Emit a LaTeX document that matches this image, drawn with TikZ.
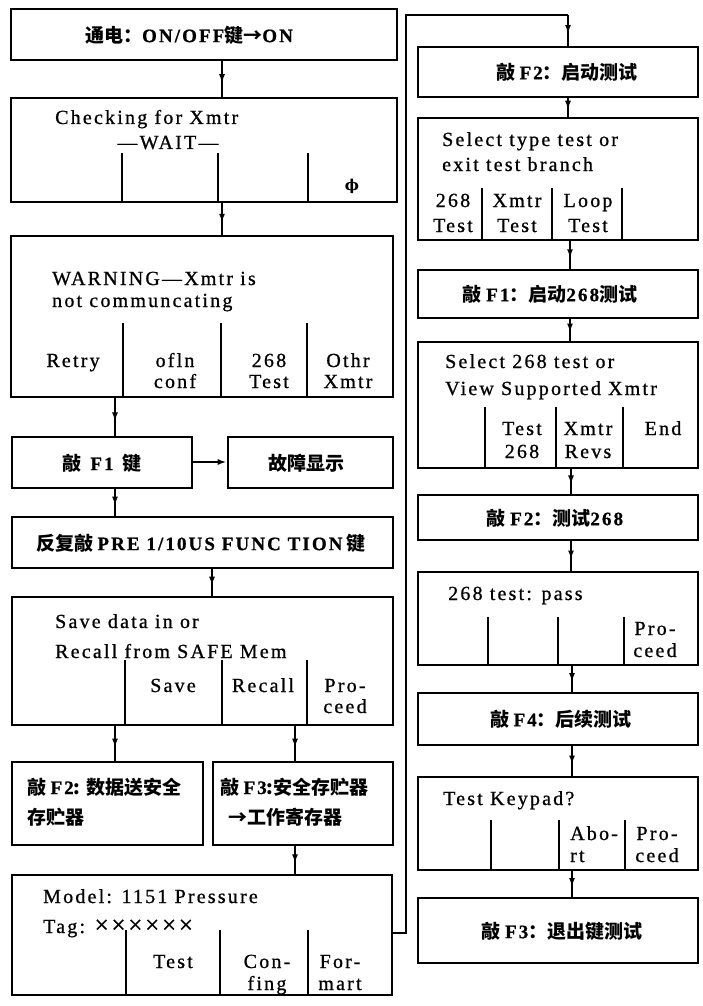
\documentclass[tikz,border=0pt]{standalone}
\usepackage{fontspec}
\setmainfont{Liberation Serif}
\newfontfamily\en[LetterSpace=11,FakeBold=0.8]{Liberation Serif}
\newfontfamily\cjk{Noto Sans CJK SC}
\newfontfamily\symf{DejaVu Serif}
\newcommand{\E}[1]{{\en #1}}
\usetikzlibrary{arrows.meta,decorations.markings,fit}
\begin{document}
\begin{tikzpicture}[x=1pt,y=-1pt,
  box/.style={draw, line width=2.6pt, inner sep=0pt},
  div/.style={line width=2.2pt},
  con/.style={line width=2.2pt},
  arr/.style={line width=2.2pt, postaction=decorate,
    decoration={markings, mark=at position 0.62 with {\arrow{Latex[length=9pt,width=6pt]}}}},
  harr/.style={line width=2.2pt, -{Latex[length=9pt,width=6pt]}},
  en/.style={font=\en\fontsize{20}{22}\selectfont, inner sep=0pt},
  zh/.style={font=\cjk\bfseries\fontsize{19}{22}\selectfont, inner sep=0pt},
]
\useasboundingbox (0,0) rectangle (702,1006);
\fill[white] (0,0) rectangle (702,1006);

% ---------- left column boxes ----------
\node[box, fit={(11,9) (397,60)}] (L1) {};
\node[box, fit={(11,98) (397,202)}] (L2) {};
\node[box, fit={(11,236) (393,397)}] (L3) {};
\node[box, fit={(12,437) (192,488)}] (L4a) {};
\node[box, fit={(228,437) (393,488)}] (L4b) {};
\node[box, fit={(12,517) (393,568)}] (L5) {};
\node[box, fit={(12,597) (393,725)}] (L6) {};
\node[box, fit={(12,762) (203,845)}] (L7a) {};
\node[box, fit={(213,762) (393,845)}] (L7b) {};
\node[box, fit={(12,875) (392,995)}] (L8) {};

% ---------- right column boxes ----------
\node[box, fit={(418,47) (698,97)}] (R1) {};
\node[box, fit={(418,118) (698,240)}] (R2) {};
\node[box, fit={(418,270) (698,318)}] (R3) {};
\node[box, fit={(418,342) (698,468)}] (R4) {};
\node[box, fit={(418,495) (698,540)}] (R5) {};
\node[box, fit={(418,572) (698,665)}] (R6) {};
\node[box, fit={(418,693) (698,745)}] (R7) {};
\node[box, fit={(418,777) (698,870)}] (R8) {};
\node[box, fit={(418,898) (698,963)}] (R9) {};

% ---------- dividers ----------
\foreach \x in {122,218,308} \draw[div] (\x,153) -- (L2.south -| \x,0);
\foreach \x in {123,221,307} \draw[div] (\x,323) -- (L3.south -| \x,0);
\foreach \x in {125,222,307} \draw[div] (\x,660) -- (L6.south -| \x,0);
\foreach \x in {126,220,308} \draw[div] (\x,930) -- (L8.south -| \x,0);
\foreach \x in {482,552,622} \draw[div] (\x,188) -- (R2.south -| \x,0);
\foreach \x in {485,556,623} \draw[div] (\x,407) -- (R4.south -| \x,0);
\foreach \x in {488,558,624} \draw[div] (\x,617) -- (R6.south -| \x,0);
\foreach \x in {491,559,625} \draw[div] (\x,820) -- (R8.south -| \x,0);

% ---------- texts, left ----------
\node[zh] (t1) at (189,35) {通电：\E{ON/OFF}键→\E{ON}};

\node[en, anchor=base west] (t2a) at (55,124) {Checking for Xmtr};
\node[en, anchor=base] (t2b) at (168,149) {—WAIT—};
\node[inner sep=0pt, font=\symf\bfseries\fontsize{15}{15}\selectfont, anchor=base] (t2c) at (352,190) {ϕ};

\node[en, anchor=base west] (t3a) at (52,285) {WARNING—Xmtr is};
\node[en, anchor=base west] (t3b) at (52,307) {not communcating};
\node[en, anchor=base] (t3c) at (73,367) {Retry};
\node[en, anchor=base] (t3d) at (175,367) {ofln};
\node[en, anchor=base] (t3e) at (175,388) {conf};
\node[en, anchor=base] (t3f) at (269,367) {268};
\node[en, anchor=base] (t3g) at (269,388) {Test};
\node[en, anchor=base] (t3h) at (348,367) {Othr};
\node[en, anchor=base] (t3i) at (348,388) {Xmtr};

\node[zh] (t4a) at (102,463) {敲\hspace{9pt}\E{F1}\hspace{9pt}键};
\node[zh] (t4b) at (306,463) {故障显示};

\node[zh] (t5) at (201,543) {反复敲 \E{PRE 1/10US FUNC TION} 键};

\node[en, anchor=base west] (t6a) at (55,628) {Save data in or};
\node[en, anchor=base west] (t6b) at (55,658) {Recall from SAFE Mem};
\node[en, anchor=base] (t6c) at (173,692) {Save};
\node[en, anchor=base] (t6d) at (263,692) {Recall};
\node[en, anchor=base] (t6e) at (345,692) {Pro-};
\node[en, anchor=base] (t6f) at (345,713) {ceed};

\node[zh, anchor=base west] (t7a) at (27,794) {敲 \E{F2}: 数据送安全};
\node[zh, anchor=base west] (t7b) at (27,824) {存贮器};
\node[zh, anchor=base west] (t7c) at (220,794) {敲 \E{F3}:安全存贮器};
\node[zh, anchor=base west] (t7d) at (228,824) {→工作寄存器};

\node[en, anchor=base west] (t8a) at (43,903) {Model: 1151 Pressure};
\node[en, anchor=base west] (t8b) at (43,933) {Tag: {\fontsize{25}{25}\selectfont ××××××}};
\node[en, anchor=base] (t8c) at (173,968) {Test};
\node[en, anchor=base] (t8d) at (267,968) {Con-};
\node[en, anchor=base] (t8e) at (267,990) {fing};
\node[en, anchor=base] (t8f) at (340,968) {For-};
\node[en, anchor=base] (t8g) at (340,990) {mart};

% ---------- texts, right ----------
\node[zh] (r1) at (567,72) {敲 \E{F2}：启动测试};

\node[en, anchor=base west] (r2a) at (442,146) {Select type test or};
\node[en, anchor=base west] (r2b) at (442,171) {exit test branch};
\node[en, anchor=base] (r2c) at (453,207) {268};
\node[en, anchor=base] (r2d) at (453,232) {Test};
\node[en, anchor=base] (r2e) at (517,207) {Xmtr};
\node[en, anchor=base] (r2f) at (517,232) {Test};
\node[en, anchor=base] (r2g) at (588,207) {Loop};
\node[en, anchor=base] (r2h) at (588,232) {Test};

\node[zh] (r3) at (550,294) {敲 \E{F1}：启动\E{268}测试};

\node[en, anchor=base west] (r4a) at (445,368) {Select 268 test or};
\node[en, anchor=base west] (r4b) at (445,395) {View Supported Xmtr};
\node[en, anchor=base] (r4c) at (522,435) {Test};
\node[en, anchor=base] (r4d) at (522,458) {268};
\node[en, anchor=base] (r4e) at (588,435) {Xmtr};
\node[en, anchor=base] (r4f) at (588,458) {Revs};
\node[en, anchor=base] (r4g) at (663,435) {End};

\node[zh] (r5) at (555,518) {敲 \E{F2}：测试\E{268}};

\node[en, anchor=base west] (r6a) at (448,600) {268 test: pass};
\node[en, anchor=base] (r6b) at (655,635) {Pro-};
\node[en, anchor=base] (r6c) at (655,657) {ceed};

\node[zh] (r7) at (561,719) {敲 \E{F4}：后续测试};

\node[en, anchor=base west] (r8a) at (443,805) {Test Keypad?};
\node[en, anchor=base west] (r8b) at (570,840) {Abo-};
\node[en, anchor=base west] (r8c) at (570,862) {rt};
\node[en, anchor=base] (r8d) at (657,840) {Pro-};
\node[en, anchor=base] (r8e) at (657,862) {ceed};

\node[zh] (r9) at (562,931) {敲 \E{F3}：退出键测试};

% ---------- connectors, left ----------
\draw[arr] (L1.south -| 222,0) -- (L2.north -| 222,0);
\draw[arr] (L2.south -| 222,0) -- (L3.north -| 222,0);
\draw[arr] (L3.south -| 115,0) -- (L4a.north -| 115,0);
\draw[harr] (L4a.east |- 0,462) -- (L4b.west |- 0,462);
\draw[arr] (L4a.south -| 115,0) -- (L5.north -| 115,0);
\draw[arr] (L5.south -| 212,0) -- (L6.north -| 212,0);
\draw[arr] (L6.south -| 115,0) -- (L7a.north -| 115,0);
\draw[arr] (L6.south -| 295,0) -- (L7b.north -| 295,0);
\draw[arr] (L7b.south -| 295,0) -- (L8.north -| 295,0);

% loop from left bottom to right top
\coordinate (lp1) at (406,933);
\coordinate (lp2) at (406,15);
\coordinate (lp3) at (568,15);
\draw[con] (L8.east |- lp1) -- (lp1) -- (lp2) -- (lp3);
\draw[arr] (lp3) -- (R1.north -| lp3);

% ---------- connectors, right ----------
\draw[arr] (R1.south -| 568,0) -- (R2.north -| 568,0);
\draw[arr] (R2.south -| 570,0) -- (R3.north -| 570,0);
\draw[arr] (R3.south -| 570,0) -- (R4.north -| 570,0);
\draw[arr] (R4.south -| 571,0) -- (R5.north -| 571,0);
\draw[arr] (R5.south -| 571,0) -- (R6.north -| 571,0);
\draw[arr] (R6.south -| 572,0) -- (R7.north -| 572,0);
\draw[arr] (R7.south -| 572,0) -- (R8.north -| 572,0);
\draw[arr] (R8.south -| 572,0) -- (R9.north -| 572,0);
\end{tikzpicture}
\end{document}
